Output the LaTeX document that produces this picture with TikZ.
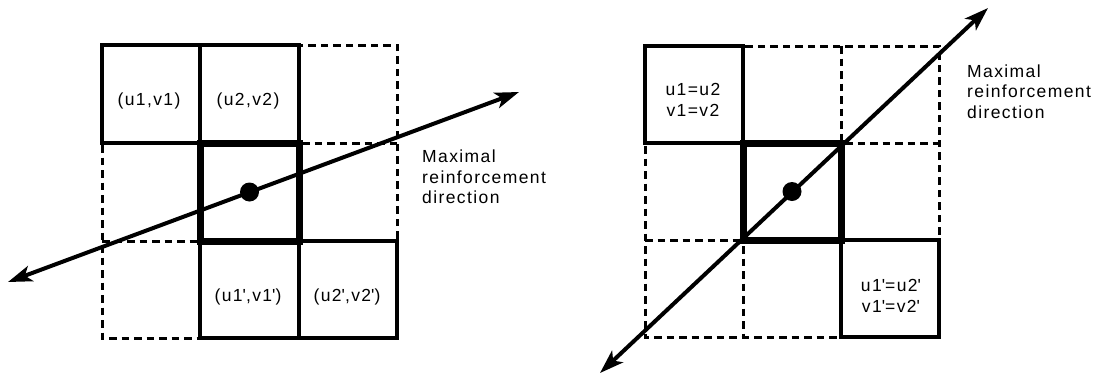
\documentclass[tikz,border=0pt]{standalone}
\usepackage{fontspec}
\setmainfont{Liberation Sans}[LetterSpace=8]
\usetikzlibrary{arrows.meta}
\newcommand\sq{\textquotesingle}
\begin{document}
\begin{tikzpicture}[x=1pt,y=-1pt,
  dashedcell/.style={draw, line width=3pt, dash pattern=on 7.5pt off 5pt},
  solidcell/.style={draw, line width=4.2pt},
  thickcell/.style={draw, line width=7pt},
  reinf/.style={line width=4pt, {Stealth[length=24pt,width=16pt,inset=6pt]}-{Stealth[length=24pt,width=16pt,inset=6pt]}},
  lab/.style={inner sep=0pt, font=\fontsize{17.5}{21}\selectfont, align=center},
  note/.style={inner sep=0pt, font=\fontsize{17.5}{20.5}\selectfont, align=left, anchor=base west},
  bigdot/.style={circle, fill, inner sep=0pt, minimum size=19pt}]
\useasboundingbox (0,0) rectangle (1101,378);

% ---------- left figure ----------
\draw[dashedcell] (102,45) rectangle (397,338);
\draw[dashedcell] (200,45) -- (200,338);
\draw[dashedcell] (299,45) -- (299,338);
\draw[dashedcell] (102,143) -- (397,143);
\draw[dashedcell] (102,241) -- (397,241);
\draw[solidcell] (102,45) rectangle (200,143);
\draw[solidcell] (200,45) rectangle (299,143);
\draw[solidcell] (200,241) rectangle (299,338);
\draw[solidcell] (299,241) rectangle (397,338);
\draw[thickcell] (200,143) rectangle (299,241);

\node[lab] (l11) at (149,101) {(u1,v1)};
\node[lab] (l21) at (248,101) {(u2,v2)};
\node[lab] (l12) at (248,297) {(u1\sq,v1\sq)};
\node[lab] (l22) at (347,297) {(u2\sq,v2\sq)};

\coordinate (aL1) at (8,282);
\coordinate (aL2) at (519,92);
\draw[reinf] (aL1) -- (aL2);
\node[bigdot] (dotL) at (249.5,192) {};

\node[note] (txtL) at (422,203.5) {Maximal\\reinforcement\\direction};

% ---------- right figure ----------
\draw[dashedcell] (645,46) rectangle (939,337);
\draw[dashedcell] (743,46) -- (743,337);
\draw[dashedcell] (841,46) -- (841,337);
\draw[dashedcell] (645,143) -- (939,143);
\draw[dashedcell] (645,240) -- (939,240);
\draw[solidcell] (645,46) rectangle (743,143);
\draw[solidcell] (841,240) rectangle (939,337);
\draw[thickcell] (743,143) rectangle (841,240);

\node[lab] (r11) at (693,100) {u1=u2\\v1=v2};
\node[lab] (r22) at (891,296) {u1\sq=u2\sq\\v1\sq=v2\sq};

\coordinate (aR1) at (600,373);
\coordinate (aR2) at (988,8);
\draw[reinf] (aR1) -- (aR2);
\node[bigdot] (dotR) at (792,191.5) {};

\node[note] (txtR) at (967,118) {Maximal\\reinforcement\\direction};
\end{tikzpicture}
\end{document}
